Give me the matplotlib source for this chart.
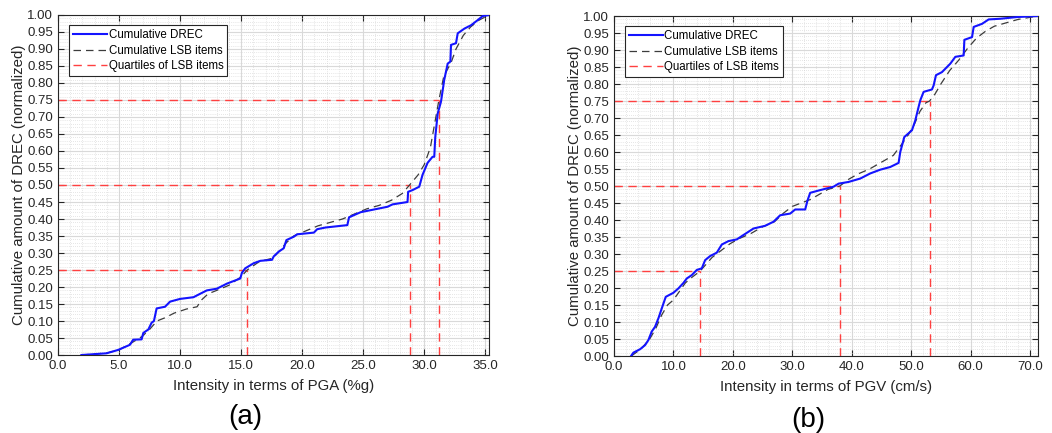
import numpy as np
import matplotlib
matplotlib.use('Agg')
import matplotlib.pyplot as plt
from matplotlib.ticker import MultipleLocator, FormatStrFormatter

plt.rcParams['font.family'] = ['Liberation Sans', 'DejaVu Sans']

# (a) PGA
pga_drec_x = [1.92, 3.97, 4.93, 5.89, 6.16, 6.85, 6.99, 7.40, 7.67, 7.86, 8.08, 8.77, 9.18, 10.0,
              11.1, 11.64, 12.19, 13.01, 13.84, 14.93, 15.07, 15.34, 16.03, 16.58, 17.53, 17.67,
              18.08, 18.49, 18.71, 19.32, 19.59, 20.96, 21.23, 21.92, 23.70, 23.84, 24.79, 25.89,
              26.99, 27.40, 28.63, 28.68, 29.04, 29.59, 29.86, 30.27, 30.68, 30.82, 30.90, 31.10,
              31.37, 31.64, 31.92, 32.14, 32.19, 32.60, 32.74, 33.29, 33.84, 34.38, 34.79, 35.34]
pga_drec_y = [0.0, 0.005, 0.015, 0.03, 0.045, 0.046, 0.065, 0.075, 0.095, 0.1, 0.137, 0.142, 0.157,
              0.165, 0.17, 0.18, 0.19, 0.195, 0.21, 0.225, 0.242, 0.255, 0.27, 0.277, 0.28, 0.29,
              0.304, 0.314, 0.338, 0.348, 0.355, 0.36, 0.37, 0.375, 0.382, 0.405, 0.42, 0.428,
              0.436, 0.443, 0.45, 0.48, 0.485, 0.495, 0.53, 0.565, 0.583, 0.583, 0.64, 0.71,
              0.745, 0.81, 0.857, 0.863, 0.912, 0.917, 0.946, 0.96, 0.97, 0.985, 0.997, 1.0]
pga_lsb_x = [1.9, 3.0, 4.0, 5.0, 6.0, 6.9, 7.5, 8.1, 8.8, 9.5, 10.5, 11.4, 11.7, 12.3, 13.0, 14.0,
             15.0, 15.5, 16.5, 17.6, 18.0, 18.7, 19.3, 20.3, 21.3, 22.3, 23.3, 24.3, 25.3, 26.3,
             27.3, 28.2, 28.8, 29.5, 30.0, 30.5, 30.9, 31.2, 31.6, 32.2, 32.6, 33.2, 33.8, 34.5, 35.3]
pga_lsb_y = [0, 0.003, 0.006, 0.015, 0.035, 0.055, 0.075, 0.1, 0.11, 0.123, 0.135, 0.142, 0.16,
             0.18, 0.19, 0.205, 0.23, 0.25, 0.275, 0.285, 0.3, 0.33, 0.35, 0.365, 0.38, 0.39, 0.4,
             0.415, 0.43, 0.44, 0.455, 0.475, 0.5, 0.53, 0.56, 0.61, 0.69, 0.75, 0.82, 0.86, 0.9,
             0.94, 0.965, 0.985, 1.0]
pga_quart_x = [15.5, 28.8, 31.2]

# (b) PGV
pgv_drec_x = [2.86, 3.26, 4.38, 5.22, 5.78, 6.34, 6.9, 7.47, 8.03, 8.70, 9.99, 10.84, 11.68, 12.24,
              13.08, 13.92, 14.77, 15.33, 16.17, 17.29, 18.14, 19.26, 20.66, 21.79, 23.47, 25.43,
              26.84, 27.96, 29.65, 30.49, 32.17, 32.57, 33.01, 34.7, 36.94, 37.79, 39.47, 41.44,
              43.12, 44.8, 46.49, 47.89, 48.17, 48.85, 50.14, 50.7, 51.26, 51.54, 52.1, 53.51,
              53.79, 54.18, 55.19, 56.6, 57.44, 58.84, 58.96, 60.25, 60.53, 61.93, 63.05, 65.02,
              67.83, 71.36]
pgv_drec_y = [0.0, 0.01, 0.02, 0.032, 0.047, 0.072, 0.086, 0.111, 0.14, 0.174, 0.186, 0.199, 0.215,
              0.228, 0.238, 0.253, 0.258, 0.282, 0.294, 0.304, 0.328, 0.338, 0.343, 0.356, 0.375,
              0.383, 0.395, 0.414, 0.419, 0.431, 0.431, 0.458, 0.48, 0.488, 0.498, 0.507, 0.512,
              0.522, 0.537, 0.548, 0.556, 0.568, 0.6, 0.644, 0.664, 0.693, 0.733, 0.752, 0.777,
              0.784, 0.796, 0.826, 0.835, 0.86, 0.88, 0.884, 0.93, 0.938, 0.968, 0.977, 0.99,
              0.992, 0.997, 1.0]
pgv_lsb_x = [2.9, 4.5, 6.0, 7.0, 8.0, 9.0, 10.0, 11.0, 12.0, 13.0, 14.5, 15.5, 16.5, 18.0, 19.5,
             21.0, 23.0, 25.0, 27.0, 28.5, 30.0, 31.5, 33.0, 34.5, 36.0, 38.0, 39.5, 41.0, 43.0,
             45.0, 47.0, 48.5, 49.5, 50.5, 51.5, 52.5, 53.1, 54.0, 55.0, 56.5, 58.0, 59.5, 61.0,
             62.5, 64.0, 66.0, 68.0, 71.3]
pgv_lsb_y = [0, 0.02, 0.05, 0.08, 0.12, 0.15, 0.165, 0.19, 0.215, 0.23, 0.25, 0.27, 0.29, 0.31,
             0.33, 0.345, 0.36, 0.38, 0.395, 0.42, 0.44, 0.45, 0.46, 0.475, 0.49, 0.5, 0.52, 0.535,
             0.55, 0.57, 0.59, 0.625, 0.65, 0.68, 0.72, 0.745, 0.75, 0.77, 0.8, 0.84, 0.87, 0.905,
             0.935, 0.955, 0.97, 0.98, 0.99, 1.0]
pgv_quart_x = [14.5, 38.0, 53.1]

quart_levels = [0.25, 0.50, 0.75]

BLUE = '#1414ff'
GRAY = '#3c3c3c'
RED = '#ff4040'


def draw_panel(ax, dx, dy, lx, ly, qx, xmax, xmajor, xminor, xlabel):
    ax.plot(dx, dy, color=BLUE, lw=1.5, label='Cumulative DREC', zorder=4)
    ax.plot(lx, ly, color=GRAY, lw=0.9, ls=(0, (6, 4)), label='Cumulative LSB items', zorder=3)
    for i, (q, lev) in enumerate(zip(qx, quart_levels)):
        lab = 'Quartiles of LSB items' if i == 0 else None
        ax.plot([0, q], [lev, lev], color=RED, lw=1.0, ls=(0, (6, 4)), label=lab, zorder=2)
        ax.plot([q, q], [0, lev], color=RED, lw=1.0, ls=(0, (6, 4)), zorder=2)

    ax.set_xlim(0, xmax)
    ax.set_ylim(0, 1)
    ax.xaxis.set_major_locator(MultipleLocator(xmajor))
    ax.xaxis.set_minor_locator(MultipleLocator(xminor))
    ax.yaxis.set_major_locator(MultipleLocator(0.05))
    ax.yaxis.set_minor_locator(MultipleLocator(0.01))
    ax.xaxis.set_major_formatter(FormatStrFormatter('%.1f'))
    ax.yaxis.set_major_formatter(FormatStrFormatter('%.2f'))
    ax.grid(True, which='major', color='#d9d9d9', lw=0.8)
    ax.grid(True, which='minor', color='#cfcfcf', lw=0.5, ls=(0, (1, 2)))
    ax.set_axisbelow(True)
    ax.tick_params(which='both', direction='in', top=True, right=True, colors='#262626',
                   labelsize=9.5, length=4)
    ax.tick_params(which='minor', length=0)
    for s in ax.spines.values():
        s.set_color('#262626')
        s.set_linewidth(0.8)
    ax.set_xlabel(xlabel, fontsize=10.8, color='#262626', labelpad=5)
    ax.set_ylabel('Cumulative amount of DREC (normalized)', fontsize=10.8, color='#262626',
                  labelpad=1)
    leg = ax.legend(loc='upper left', bbox_to_anchor=(0.025, 0.97), fontsize=8.3, frameon=True,
                    fancybox=False, edgecolor='#262626', framealpha=1, borderpad=0.35,
                    labelspacing=0.3, handlelength=3.0, handletextpad=0.1, borderaxespad=0)
    leg.get_frame().set_linewidth(0.8)


fig = plt.figure(figsize=(10.52, 4.33), dpi=100)
ax1 = fig.add_axes([0.0551, 0.1801, 0.4097, 0.7853])
ax2 = fig.add_axes([0.5837, 0.1778, 0.4027, 0.7852])

draw_panel(ax1, pga_drec_x, pga_drec_y, pga_lsb_x, pga_lsb_y, pga_quart_x, 35.3, 5, 1,
           'Intensity in terms of PGA (%g)')
draw_panel(ax2, pgv_drec_x, pgv_drec_y, pgv_lsb_x, pgv_lsb_y, pgv_quart_x, 71.3, 10, 2,
           'Intensity in terms of PGV (cm/s)')

fig.text(245 / 1052, 1 - 417 / 433, '(a)', fontsize=20, ha='center', va='center')
fig.text(808 / 1052, 1 - 420 / 433, '(b)', fontsize=20, ha='center', va='center')

fig.savefig('out.png', dpi=100, facecolor='white')
